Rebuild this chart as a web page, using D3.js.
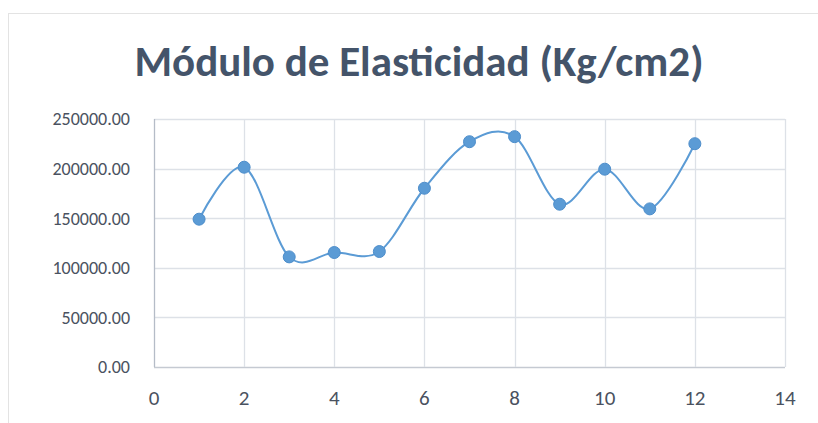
<!doctype html>
<html lang="es">
<head>
	<meta charset="UTF-8">
	<title>Módulo de Elasticidad</title>
	<style>
		body { margin: 0; background: #fff; }
		.tick-label { fill: #4a5260; font-family: Calibri, Carlito, "Open Sans", sans-serif; }
	</style>
</head>
<body>
	<script src="https://cdn.jsdelivr.net/npm/d3@7/dist/d3.min.js"></script>
	<script>
		// data
		var xValues = [1, 2, 3, 4, 5, 6, 7, 8, 9, 10, 11, 12];
		var modulo = [149000, 201400, 111000, 115400, 116400, 180200, 227100, 232200, 164100, 199400, 159400, 225100];
		var xTicks = [0, 2, 4, 6, 8, 10, 12, 14];
		var yTicks = [0, 50000, 100000, 150000, 200000, 250000];
		var title = 'Módulo de Elasticidad (Kg/cm2)';

		var w = 818,
			h = 423;

		var svg = d3.select('body')
			.append('svg')
			.attr('width', w)
			.attr('height', h);

		// chart frame
		svg.append('rect')
			.attr('x', 8.5)
			.attr('y', 13.5)
			.attr('width', w)
			.attr('height', h)
			.attr('fill', '#fff')
			.attr('stroke', '#e3e3e3');

		var xScale = d3.scaleLinear()
			.domain([0, 14])
			.range([154, 785]);

		var yScale = d3.scaleLinear()
			.domain([0, 250000])
			.range([367, 119]);

		// grid
		svg.selectAll('.hgrid')
			.data(yTicks)
			.enter()
			.append('line')
			.attr('x1', xScale(0))
			.attr('x2', xScale(14))
			.attr('y1', function(d) { return Math.round(yScale(d)) + 0.5; })
			.attr('y2', function(d) { return Math.round(yScale(d)) + 0.5; })
			.attr('stroke', function(d) { return d === 0 ? '#c5cad2' : '#dde1e7'; })
			.attr('stroke-width', 1.3);

		svg.selectAll('.vgrid')
			.data(xTicks)
			.enter()
			.append('line')
			.attr('x1', function(d) { return Math.round(xScale(d)) + 0.5; })
			.attr('x2', function(d) { return Math.round(xScale(d)) + 0.5; })
			.attr('y1', yScale(250000))
			.attr('y2', yScale(0))
			.attr('stroke', function(d) { return d === 0 ? '#b5bcc7' : '#dde1e7'; })
			.attr('stroke-width', 1.3);

		// axis labels
		svg.selectAll('.ylab')
			.data(yTicks)
			.enter()
			.append('text')
			.attr('class', 'tick-label')
			.attr('font-size', 18)
			.attr('x', 130)
			.attr('y', function(d) { return yScale(d); })
			.attr('dy', '0.35em')
			.attr('text-anchor', 'end')
			.text(function(d) { return d3.format('.2f')(d); });

		svg.selectAll('.xlab')
			.data(xTicks)
			.enter()
			.append('text')
			.attr('class', 'tick-label')
			.attr('font-size', 21)
			.attr('x', function(d) { return xScale(d); })
			.attr('y', 405)
			.attr('text-anchor', 'middle')
			.text(function(d) { return d; });

		// smooth line like excel
		var points = xValues.map(function(x, i) { return [x, modulo[i]]; });

		var line = d3.line()
			.x(function(d) { return xScale(d[0]); })
			.y(function(d) { return yScale(d[1]); })
			.curve(d3.curveCardinal.tension(0));

		svg.append('path')
			.datum(points)
			.attr('d', line)
			.attr('fill', 'none')
			.attr('stroke', '#5b9bd5')
			.attr('stroke-width', 2);

		svg.selectAll('circle')
			.data(points)
			.enter()
			.append('circle')
			.attr('cx', function(d) { return xScale(d[0]); })
			.attr('cy', function(d) { return yScale(d[1]); })
			.attr('r', 6)
			.attr('fill', '#5b9bd5')
			.attr('stroke', '#4e8ecb')
			.attr('stroke-width', 1);

		svg.append('text')
			.attr('x', 419)
			.attr('y', 76)
			.attr('text-anchor', 'middle')
			.attr('fill', '#44546a')
			.attr('font-family', 'Calibri, Carlito, "Open Sans", sans-serif')
			.attr('font-weight', 'bold')
			.attr('font-size', 43)
			.text(title);
	</script>
</body>
</html>
